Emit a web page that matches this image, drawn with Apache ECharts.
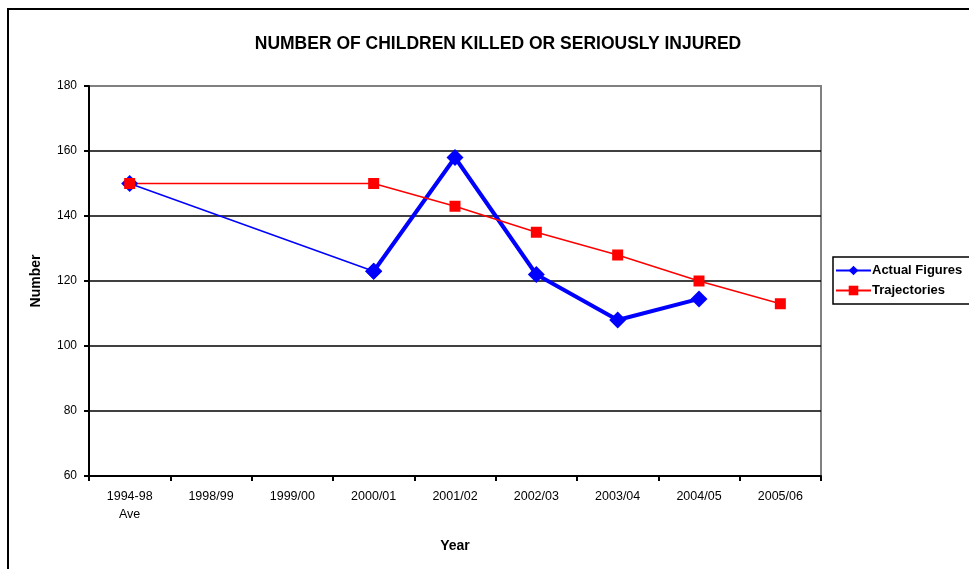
<!DOCTYPE html>
<html>
<head>
<meta charset="utf-8">
<script src="https://cdn.jsdelivr.net/npm/echarts@6/dist/echarts.min.js"></script>
<style>
  html, body { margin: 0; padding: 0; background: #fff; }
  #main { width: 969px; height: 569px; }
</style>
</head>
<body>
<div id="main"></div>
<script>
// data
var years = ['1994-98\nAve', '1998/99', '1999/00', '2000/01', '2001/02', '2002/03', '2003/04', '2004/05', '2005/06'];
var actualFigures = [150, null, null, 123, 158, 122, 108, 114.5, null];
var trajectories = [150, null, null, 150, 143, 135, 128, 120, 113];
var yTicks = [60, 80, 100, 120, 140, 160, 180];

// the first gap (average -> 2000/01) is drawn with a thin line, the rest thick
var actualThick = actualFigures.map(function (v, i) { return i < 3 ? null : v; });
var actualBridge = actualFigures.map(function (v, i) { return (i === 0 || i === 3) ? v : null; });

var myChart = echarts.init(document.getElementById('main'));

var gridColors = yTicks.map(function (t, i) { return i === yTicks.length - 1 ? '#808080' : '#000'; });

var option = {
    animation: false,
    backgroundColor: '#fff',
    textStyle: { fontFamily: 'Liberation Sans, Arial, sans-serif' },
    title: {
        text: 'NUMBER OF CHILDREN KILLED OR SERIOUSLY INJURED',
        left: 493,
        top: 30,
        textAlign: 'center',
        textStyle: { fontSize: 17.5, fontWeight: 'bold', color: '#000' }
    },
    graphic: [{
        type: 'rect',
        z: -1,
        shape: { x: 8, y: 9, width: 980, height: 600 },
        style: { fill: 'none', stroke: '#000', lineWidth: 2 }
    }],
    legend: {
        data: ['Actual Figures', 'Trajectories'],
        orient: 'vertical',
        left: 833,
        top: 257,
        itemGap: 7,
        itemWidth: 35,
        itemHeight: 12,
        padding: [7, 20, 7, 2],
        borderColor: '#000',
        borderWidth: 1.5,
        textStyle: { fontSize: 13, fontWeight: 'bold', color: '#000', padding: [0, 0, 0, -4] }
    },
    grid: {
        left: 89, right: 148, top: 86, bottom: 93,
        show: true,
        borderColor: '#808080',
        borderWidth: 2
    },
    xAxis: {
        type: 'category',
        data: years,
        boundaryGap: true,
        name: 'Year',
        nameLocation: 'middle',
        nameGap: 63,
        nameTextStyle: { fontSize: 14, fontWeight: 'bold', color: '#000' },
        axisLine: { lineStyle: { color: '#000', width: 2 } },
        axisTick: { show: true, length: 5, lineStyle: { color: '#000', width: 2 } },
        axisLabel: { color: '#000', fontSize: 12.5, margin: 12, lineHeight: 18, interval: 0 },
        splitLine: { show: false }
    },
    yAxis: {
        type: 'value',
        min: 60,
        max: 180,
        interval: 20,
        name: 'Number',
        nameLocation: 'middle',
        nameGap: 46,
        nameTextStyle: { fontSize: 14, fontWeight: 'bold', color: '#000' },
        axisLine: { show: true, lineStyle: { color: '#000', width: 2 } },
        axisTick: { show: true, length: 5, lineStyle: { color: '#000', width: 2 } },
        axisLabel: { color: '#000', fontSize: 12, margin: 12 },
        splitLine: { show: true, lineStyle: { color: gridColors, width: 1.5 } }
    },
    series: [
        {
            name: 'Actual bridge',
            type: 'line',
            data: actualBridge,
            connectNulls: true,
            symbol: 'diamond',
            symbolSize: 17,
            itemStyle: { color: '#0000ff' },
            lineStyle: { color: '#0000ff', width: 1.5 }
        },
        {
            name: 'Actual Figures',
            type: 'line',
            data: actualThick,
            symbol: 'diamond',
            symbolSize: 17,
            itemStyle: { color: '#0000ff' },
            lineStyle: { color: '#0000ff', width: 4 }
        },
        {
            name: 'Trajectories',
            type: 'line',
            data: trajectories,
            connectNulls: true,
            symbol: 'rect',
            symbolSize: 11,
            itemStyle: { color: '#ff0000' },
            lineStyle: { color: '#ff0000', width: 1.5 }
        }
    ]
};

myChart.setOption(option);
</script>
</body>
</html>
